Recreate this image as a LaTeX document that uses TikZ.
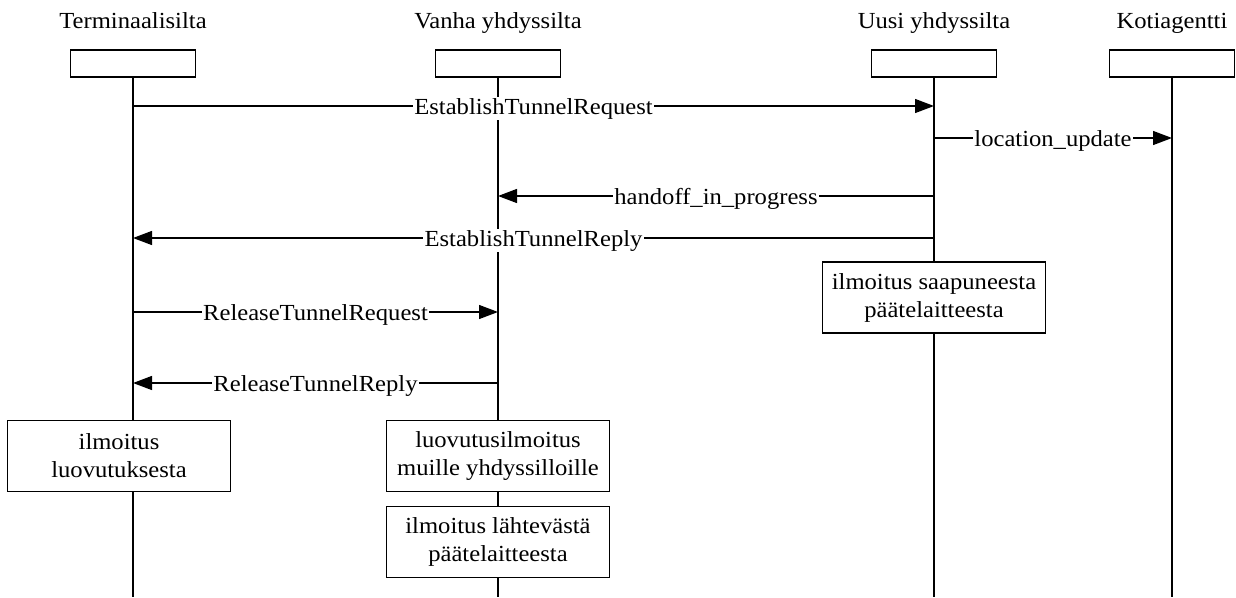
\documentclass[tikz,border=0pt]{standalone}
\usepackage{fontspec}
\setmainfont{Liberation Serif}[FakeStretch=1.07]
\usetikzlibrary{arrows.meta}

\begin{document}
\begin{tikzpicture}[x=1pt,y=-1pt,
  font=\fontsize{23}{28}\selectfont,
  head/.style={draw,line width=1.3pt,minimum width=125pt,minimum height=27pt,inner sep=0pt},
  title/.style={anchor=base,inner sep=0pt},
  life/.style={line width=1.4pt},
  msg/.style={line width=1.3pt,-{Triangle[length=19pt,width=14pt]}},
  lbl/.style={fill=white,inner sep=1.5pt,anchor=base,yshift=-8pt},
  note/.style={draw,fill=white,line width=1.3pt,minimum width=223pt,minimum height=71pt,align=center,inner sep=0pt}]

\useasboundingbox (0,0) rectangle (1236,597);

% participants
\node[head] (hT) at (133,63.5) {};
\node[head] (hV) at (498,63.5) {};
\node[head] (hU) at (934,63.5) {};
\node[head] (hK) at (1172,63.5) {};
\node[title] (tT) at (133,28) {Terminaalisilta};
\node[title] (tV) at (498,28) {Vanha yhdyssilta};
\node[title] (tU) at (934,28) {Uusi yhdyssilta};
\node[title] (tK) at (1172,28) {Kotiagentti};

% lifelines
\coordinate (bot) at (0,597);
\foreach \p in {hT,hV,hU,hK}
  \draw[life] (\p.south) -- (\p.south |- bot);

% message levels
\coordinate (y1) at (0,106);
\coordinate (y2) at (0,138);
\coordinate (y3) at (0,196);
\coordinate (y4) at (0,238);
\coordinate (y5) at (0,312);
\coordinate (y6) at (0,383);

% messages
\draw[msg] (hT |- y1) -- node[lbl] {EstablishTunnelRequest} (hU |- y1);
\draw[msg] (hU |- y2) -- node[lbl] {location\_update} (hK |- y2);
\draw[msg] (hU |- y3) -- node[lbl] {handoff\_in\_progress} (hV |- y3);
\draw[msg] (hU |- y4) -- node[lbl] {EstablishTunnelReply} (hT |- y4);
\draw[msg] (hT |- y5) -- node[lbl] {ReleaseTunnelRequest} (hV |- y5);
\draw[msg] (hV |- y6) -- node[lbl] {ReleaseTunnelReply} (hT |- y6);

% local actions
\node[note] (nU) at (934,297.5) {ilmoitus saapuneesta\\päätelaitteesta};
\node[note] (nT) at (119,456) {ilmoitus\\luovutuksesta};
\node[note] (nV1) at (498,456) {luovutusilmoitus\\muille yhdyssilloille};
\node[note] (nV2) at (498,542) {ilmoitus lähtevästä\\päätelaitteesta};

\end{tikzpicture}
\end{document}
